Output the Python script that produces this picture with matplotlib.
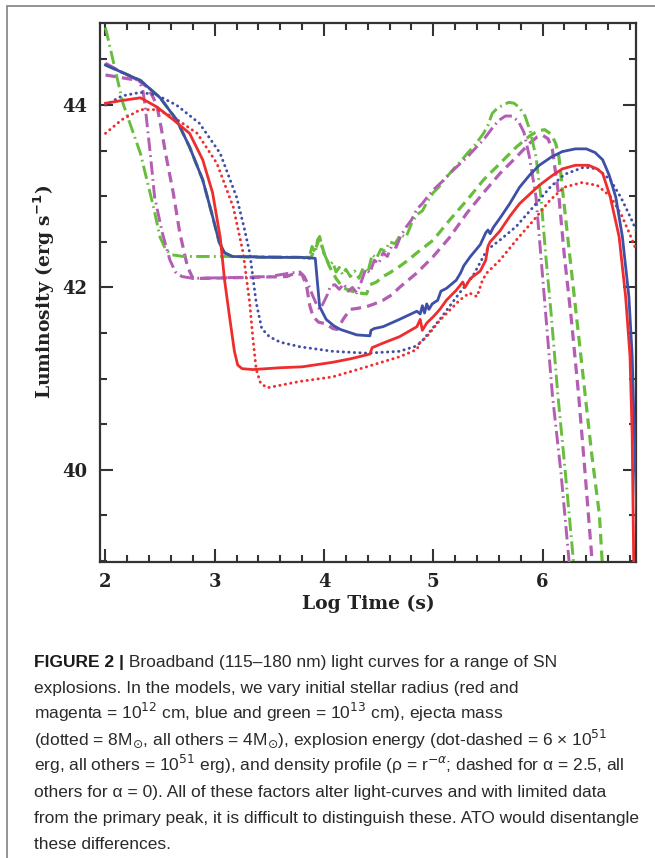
import matplotlib
matplotlib.use("Agg")
import matplotlib.pyplot as plt
from matplotlib.patches import Rectangle
from matplotlib.ticker import MultipleLocator

# ---------------- data (Log time [s], Log luminosity [erg/s]) ----------------
blue_solid = [(2.00, 44.44), (2.15, 44.36), (2.32, 44.27), (2.50, 44.08), (2.65, 43.84),
              (2.77, 43.54), (2.89, 43.18), (2.98, 42.78), (3.04, 42.50), (3.09, 42.38),
              (3.16, 42.34), (3.50, 42.33), (3.80, 42.33), (3.92, 42.32), (3.94, 42.05),
              (3.96, 41.79), (4.02, 41.65), (4.09, 41.58), (4.15, 41.54), (4.30, 41.48),
              (4.42, 41.47), (4.43, 41.53), (4.46, 41.55), (4.54, 41.57), (4.69, 41.65),
              (4.85, 41.74), (4.88, 41.71), (4.90, 41.80), (4.92, 41.72), (4.94, 41.82),
              (4.96, 41.76), (4.99, 41.82), (5.04, 41.86), (5.07, 41.96), (5.12, 41.99),
              (5.17, 42.04), (5.21, 42.08), (5.25, 42.16), (5.28, 42.24), (5.34, 42.34),
              (5.43, 42.47), (5.48, 42.60), (5.50, 42.63), (5.52, 42.59), (5.55, 42.66),
              (5.61, 42.76), (5.70, 42.92), (5.79, 43.10), (5.88, 43.23), (5.97, 43.34),
              (6.08, 43.43), (6.18, 43.49), (6.30, 43.52), (6.40, 43.52), (6.48, 43.48),
              (6.55, 43.40), (6.61, 43.23), (6.67, 42.99), (6.73, 42.56), (6.79, 41.90),
              (6.82, 41.25), (6.84, 40.40), (6.87, 39.20)]

red_solid = [(2.00, 44.02), (2.15, 44.05), (2.32, 44.08), (2.47, 43.98), (2.62, 43.84),
             (2.77, 43.69), (2.89, 43.40), (2.98, 43.04), (3.05, 42.55), (3.09, 42.08),
             (3.14, 41.64), (3.18, 41.30), (3.21, 41.15), (3.25, 41.11), (3.35, 41.10),
             (3.60, 41.12), (3.80, 41.13), (4.08, 41.18), (4.25, 41.22), (4.42, 41.27),
             (4.44, 41.34), (4.54, 41.39), (4.69, 41.46), (4.85, 41.57), (4.88, 41.65),
             (4.90, 41.53), (4.94, 41.61), (5.00, 41.68), (5.06, 41.76), (5.12, 41.86),
             (5.21, 41.97), (5.27, 42.06), (5.29, 42.00), (5.34, 42.10), (5.43, 42.18),
             (5.48, 42.30), (5.50, 42.45), (5.52, 42.50), (5.61, 42.62), (5.70, 42.78),
             (5.79, 42.92), (5.88, 43.02), (5.97, 43.12), (6.08, 43.22), (6.18, 43.30),
             (6.30, 43.34), (6.42, 43.34), (6.50, 43.30), (6.55, 43.25), (6.62, 42.99),
             (6.70, 42.56), (6.76, 41.90), (6.80, 41.25), (6.82, 40.38), (6.835, 38.90)]

blue_dotted = [(2.00, 44.00), (2.15, 44.10), (2.32, 44.14), (2.47, 44.11), (2.65, 44.00),
               (2.86, 43.80), (3.05, 43.47), (3.20, 42.99), (3.27, 42.65), (3.32, 42.38),
               (3.38, 41.83), (3.43, 41.55), (3.50, 41.46), (3.60, 41.40), (3.78, 41.35),
               (4.08, 41.30), (4.39, 41.28), (4.69, 41.30), (4.85, 41.36), (4.91, 41.43),
               (5.06, 41.65), (5.24, 41.94), (5.36, 42.12), (5.49, 42.41), (5.61, 42.52),
               (5.76, 42.67), (5.92, 42.89), (6.07, 43.10), (6.20, 43.24), (6.38, 43.32),
               (6.50, 43.30), (6.62, 43.18), (6.72, 42.98), (6.80, 42.78), (6.86, 42.62)]

red_dotted = [(2.00, 43.69), (2.15, 43.84), (2.32, 43.95), (2.47, 43.95), (2.62, 43.87),
              (2.84, 43.69), (3.02, 43.36), (3.17, 42.88), (3.26, 42.38), (3.32, 41.83),
              (3.35, 41.43), (3.38, 41.10), (3.42, 40.95), (3.48, 40.90), (3.78, 40.97),
              (4.08, 41.02), (4.39, 41.13), (4.69, 41.24), (4.85, 41.32), (4.88, 41.40),
              (4.94, 41.46), (5.06, 41.64), (5.24, 41.86), (5.33, 41.94), (5.40, 41.90),
              (5.45, 42.08), (5.49, 42.16), (5.61, 42.30), (5.76, 42.52), (5.92, 42.74),
              (6.07, 42.96), (6.20, 43.10), (6.36, 43.15), (6.50, 43.12), (6.62, 43.00),
              (6.72, 42.80), (6.80, 42.58), (6.86, 42.40)]

green_dotdash = [(2.00, 44.85), (2.16, 44.02), (2.32, 43.47), (2.44, 42.88), (2.50, 42.55),
                 (2.55, 42.42), (2.60, 42.36), (2.71, 42.34), (3.00, 42.34), (3.40, 42.34),
                 (3.80, 42.33), (3.86, 42.30), (3.89, 42.45), (3.92, 42.38), (3.94, 42.52),
                 (3.96, 42.56), (3.99, 42.40), (4.02, 42.32), (4.05, 42.24), (4.08, 42.28),
                 (4.11, 42.17), (4.14, 42.22), (4.17, 42.14), (4.20, 42.20), (4.24, 42.12),
                 (4.28, 42.18), (4.32, 42.10), (4.36, 42.22), (4.40, 42.16), (4.44, 42.36),
                 (4.48, 42.32), (4.52, 42.42), (4.56, 42.40), (4.60, 42.50), (4.65, 42.48),
                 (4.70, 42.58), (4.75, 42.55), (4.80, 42.70), (4.85, 42.80), (4.90, 42.84),
                 (4.95, 42.95), (5.00, 43.04), (5.05, 43.10), (5.10, 43.18), (5.15, 43.25),
                 (5.20, 43.32), (5.25, 43.38), (5.31, 43.47), (5.38, 43.56), (5.46, 43.69),
                 (5.50, 43.78), (5.54, 43.91), (5.59, 43.97), (5.64, 44.00), (5.69, 44.03),
                 (5.74, 44.02), (5.79, 43.97), (5.84, 43.88), (5.89, 43.70), (5.94, 43.43),
                 (5.985, 42.99), (6.03, 42.34), (6.08, 41.69), (6.14, 40.82), (6.21, 39.95),
                 (6.29, 38.90)]

magenta_dotdash = [(2.00, 44.46), (2.15, 44.36), (2.30, 44.27), (2.34, 44.18), (2.36, 44.02),
                   (2.41, 43.47), (2.45, 42.99), (2.52, 42.60), (2.59, 42.30), (2.64, 42.17),
                   (2.70, 42.12), (2.80, 42.10), (3.20, 42.11), (3.50, 42.12), (3.70, 42.16),
                   (3.78, 42.17), (3.82, 42.12), (3.86, 42.02), (3.90, 41.90), (3.93, 41.82),
                   (3.96, 41.76), (3.99, 41.82), (4.03, 41.92), (4.06, 42.02), (4.10, 42.03),
                   (4.14, 41.98), (4.18, 42.04), (4.22, 41.96), (4.26, 42.00), (4.30, 41.94),
                   (4.34, 42.06), (4.38, 42.20), (4.42, 42.16), (4.46, 42.30), (4.50, 42.26),
                   (4.54, 42.38), (4.58, 42.34), (4.62, 42.46), (4.66, 42.44), (4.70, 42.56),
                   (4.75, 42.66), (4.80, 42.74), (4.85, 42.86), (4.90, 42.92), (4.95, 43.00),
                   (5.00, 43.07), (5.08, 43.16), (5.15, 43.25), (5.23, 43.34), (5.31, 43.43),
                   (5.38, 43.52), (5.46, 43.62), (5.51, 43.70), (5.56, 43.78), (5.61, 43.84),
                   (5.66, 43.88), (5.72, 43.88), (5.78, 43.82), (5.83, 43.70), (5.88, 43.43),
                   (5.94, 42.99), (5.985, 42.34), (6.03, 41.69), (6.09, 40.82), (6.17, 39.95),
                   (6.25, 38.90)]

green_dashed = [(2.00, 44.44), (2.15, 44.36), (2.32, 44.27), (2.50, 44.08), (2.65, 43.84),
                (2.77, 43.54), (2.89, 43.18), (2.98, 42.78), (3.04, 42.50), (3.09, 42.38),
                (3.16, 42.34), (3.50, 42.33), (3.88, 42.33), (3.93, 42.45), (3.96, 42.54),
                (4.00, 42.38), (4.05, 42.23), (4.11, 42.10), (4.17, 42.00), (4.25, 41.96),
                (4.32, 41.94), (4.39, 41.93), (4.42, 42.03), (4.48, 42.06), (4.54, 42.12),
                (4.60, 42.16), (4.69, 42.23), (4.77, 42.30), (4.85, 42.38), (5.00, 42.52),
                (5.15, 42.74), (5.31, 42.96), (5.46, 43.18), (5.61, 43.36), (5.76, 43.54),
                (5.88, 43.66), (5.96, 43.72), (6.02, 43.73), (6.08, 43.68), (6.12, 43.58),
                (6.15, 43.43), (6.21, 42.77), (6.27, 42.12), (6.33, 41.47), (6.39, 40.82),
                (6.45, 40.17), (6.52, 39.51), (6.55, 38.90)]

magenta_dashed = [(2.00, 44.33), (2.15, 44.30), (2.30, 44.27), (2.38, 44.20), (2.43, 44.10),
                  (2.47, 44.00), (2.51, 43.75), (2.55, 43.47), (2.62, 43.04), (2.68, 42.60),
                  (2.75, 42.23), (2.80, 42.10), (2.90, 42.10), (3.30, 42.11), (3.66, 42.12),
                  (3.74, 42.16), (3.80, 42.14), (3.84, 42.02), (3.87, 41.80), (3.90, 41.68),
                  (3.95, 41.62), (4.02, 41.60), (4.08, 41.55), (4.12, 41.54), (4.18, 41.66),
                  (4.24, 41.76), (4.30, 41.77), (4.39, 41.79), (4.46, 41.82), (4.54, 41.86),
                  (4.62, 41.92), (4.69, 42.00), (4.77, 42.08), (4.85, 42.16), (5.00, 42.34),
                  (5.15, 42.55), (5.31, 42.82), (5.46, 43.04), (5.61, 43.25), (5.76, 43.43),
                  (5.88, 43.58), (5.95, 43.65), (6.00, 43.67), (6.05, 43.63), (6.09, 43.51),
                  (6.15, 42.99), (6.20, 42.34), (6.26, 41.69), (6.33, 40.82), (6.39, 39.95),
                  (6.46, 38.90)]

x_ticks = [2, 3, 4, 5, 6]
y_ticks = [40, 42, 44]
x_label = "Log Time (s)"
y_label = "Luminosity (erg s$^{\\mathbf{-1}}$)"

caption_bold = "FIGURE 2 |"
caption_lines = [
    " Broadband (115\u2013180 nm) light curves for a range of SN",
    "explosions. In the models, we vary initial stellar radius (red and",
    "magenta = 10$^{12}$ cm, blue and green = 10$^{13}$ cm), ejecta mass",
    "(dotted = 8M$_{\\odot}$, all others = 4M$_{\\odot}$), explosion energy (dot-dashed = 6 \u00d7 10$^{51}$",
    "erg, all others = 10$^{51}$ erg), and density profile (\u03c1 = r$^{-\\alpha}$; dashed for \u03b1 = 2.5, all",
    "others for \u03b1 = 0). All of these factors alter light-curves and with limited data",
    "from the primary peak, it is difficult to distinguish these. ATO would disentangle",
    "these differences.",
]

# ---------------- styling ----------------
BLUE = "#3d4fa6"
RED = "#ee2e2e"
GREEN = "#68bd3c"
MAGENTA = "#b35db3"
FRAME = "#333333"

W, H = 655, 858
fig = plt.figure(figsize=(W / 100, H / 100), dpi=100)
fig.patch.set_facecolor("white")

# outer panel border
fig.add_artist(Rectangle((7 / W, -0.02), 1.2, 1 - 6 / H + 0.02, transform=fig.transFigure,
                         fill=False, edgecolor="#8a8a8a", linewidth=1.3, clip_on=False))

ax = fig.add_axes([100 / W, 1 - 562 / H, 536 / W, 539 / H])
ax.set_xlim(1.95, 6.855)
ax.set_ylim(38.99, 44.9)

DOT = (0, (0.1, 1.8))
DASH = (0, (3.3, 1.9))
DASHDOT = (0, (4.6, 1.5, 0.6, 1.5))

series = [
    (green_dashed, GREEN, DASH, 2.3, 2),
    (magenta_dashed, MAGENTA, DASH, 2.3, 2),
    (green_dotdash, GREEN, DASHDOT, 2.1, 3),
    (magenta_dotdash, MAGENTA, DASHDOT, 2.1, 3),
    (blue_dotted, BLUE, DOT, 2.1, 4),
    (red_dotted, RED, DOT, 2.1, 4),
    (blue_solid, BLUE, "-", 2.0, 5),
    (red_solid, RED, "-", 2.0, 6),
]
for pts, col, ls, lw, z in series:
    xs = [p[0] for p in pts]
    ys = [p[1] for p in pts]
    line, = ax.plot(xs, ys, color=col, linestyle=ls, linewidth=lw, zorder=z,
                    solid_joinstyle="round")
    if ls == DOT:
        line.set_dash_capstyle("round")

for s in ax.spines.values():
    s.set_linewidth(1.6)
    s.set_color(FRAME)

ax.set_xticks(x_ticks)
ax.set_yticks(y_ticks)
ax.xaxis.set_minor_locator(MultipleLocator(0.2))
ax.yaxis.set_minor_locator(MultipleLocator(0.5))
ax.tick_params(which="both", direction="in", top=True, right=True, color=FRAME, width=1.5)
ax.tick_params(which="major", length=9.5)
ax.tick_params(which="minor", length=5)
ax.tick_params(axis="x", which="major", pad=8)
ax.tick_params(axis="y", which="major", pad=9)
ax.set_xticklabels([str(v) for v in x_ticks], fontfamily="DejaVu Serif",
                   fontweight="bold", fontsize=13, color="#222222")
ax.set_yticklabels([str(v) for v in y_ticks], fontfamily="DejaVu Serif",
                   fontweight="bold", fontsize=13, color="#222222")

fig.text(368 / W, 1 - 604 / H, x_label, ha="center", va="center",
         fontfamily="DejaVu Serif", fontweight="bold", fontsize=13.5, color="#222222")
fig.text(44 / W, 1 - 292 / H, y_label, ha="center", va="center", rotation=90,
         fontfamily="DejaVu Serif", fontweight="bold", fontsize=13.5, color="#222222")

# ---------------- caption ----------------
CAP_FONT = ["Liberation Sans", "DejaVu Sans"]
CAP_COL = "#2a2a2a"
renderer = fig.canvas.get_renderer()
probe = fig.text(0, 0, caption_lines[6], fontfamily=CAP_FONT, fontsize=10)
w10 = probe.get_window_extent(renderer).width
probe.remove()
fs = 10 * (608 / w10)

x0 = 34
base0 = 667
step = 26.0
tb = fig.text(x0 / W, 1 - base0 / H, caption_bold, fontfamily=CAP_FONT, fontsize=fs,
              fontweight="bold", color="#1a1a1a", va="baseline")
wb = tb.get_window_extent(renderer).width
for i, line in enumerate(caption_lines):
    xx = x0 + (wb if i == 0 else 0)
    fig.text(xx / W, 1 - (base0 + i * step) / H, line, fontfamily=CAP_FONT, fontsize=fs,
             color=CAP_COL, va="baseline")

fig.savefig("out.png", dpi=100, facecolor="white")
